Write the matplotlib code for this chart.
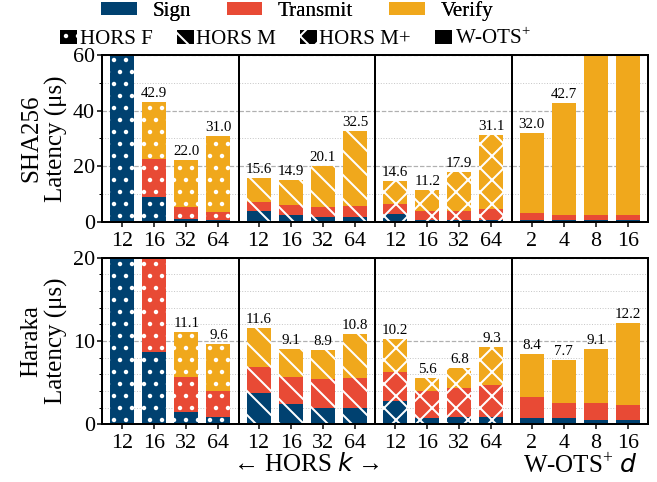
import numpy as np
import matplotlib
matplotlib.use('Agg')
import matplotlib.pyplot as plt
from matplotlib.patches import Patch
from matplotlib.ticker import MultipleLocator

plt.rcParams['font.family'] = ['Liberation Serif', 'DejaVu Serif']
plt.rcParams['mathtext.fontset'] = 'custom'
plt.rcParams['mathtext.rm'] = 'Liberation Serif'
plt.rcParams['mathtext.it'] = 'DejaVu Sans:italic'
plt.rcParams['hatch.linewidth'] = 2.0

# ========== DONNÉES ==========
hors_k = ['12', '16', '32', '64']
wots_d = ['2', '4', '8', '16']
groups = ['HORS F', 'HORS M', 'HORS M+', 'W-OTS$^{+}$']

# SHA256 (µs) : [HORS F, HORS M, HORS M+, W-OTS+]
sha_sign = [[75.0, 8.7, 1.0, 0.6],
            [3.7, 2.5, 1.8, 1.8],
            [2.8, 0.6, 0.5, 0.5],
            [0.5, 0.4, 0.4, 0.4]]
sha_transmit = [[10.0, 13.8, 4.4, 2.9],
                [3.3, 3.3, 3.6, 3.9],
                [3.4, 3.3, 3.4, 4.2],
                [2.6, 2.0, 2.0, 2.0]]
sha_total = [[95.0, 42.9, 22.0, 31.0],
             [15.6, 14.9, 20.1, 32.5],
             [14.6, 11.2, 17.9, 31.1],
             [32.0, 42.7, 80.0, 150.0]]

# Haraka (µs)
har_sign = [[30.0, 8.7, 1.5, 0.9],
            [3.7, 2.4, 2.0, 2.0],
            [2.8, 0.8, 0.9, 0.9],
            [0.75, 0.7, 0.55, 0.55]]
har_transmit = [[5.0, 18.0, 4.2, 3.1],
                [3.2, 3.3, 3.4, 3.5],
                [3.5, 3.2, 3.4, 3.85],
                [2.55, 1.9, 1.95, 1.8]]
har_total = [[40.0, 30.0, 11.1, 9.6],
             [11.6, 9.1, 8.9, 10.8],
             [10.2, 5.6, 6.8, 9.3],
             [8.4, 7.7, 9.1, 12.2]]

c_sign = '#004170'
c_transmit = '#e84a35'
c_verify = '#f0a81c'
hatches = ['.', '\\', 'x', '']

# ========== FIGURE ==========
fig, axes = plt.subplots(2, 4, figsize=(657 / 72, 482 / 72), dpi=72)
fig.subplots_adjust(left=0.1553, right=0.9863, top=0.8859, bottom=0.1197,
                    wspace=0, hspace=0.217)

rows = [(sha_sign, sha_transmit, sha_total, 60, 20, 10, 'SHA256\nLatency (μs)'),
        (har_sign, har_transmit, har_total, 20, 10, 2, 'Haraka\nLatency (μs)')]

for r, (sign, trans, total, ymax, maj, mino, ylab) in enumerate(rows):
    for g in range(4):
        ax = axes[r, g]
        x = np.arange(4)
        s = np.array(sign[g])
        t = np.array(trans[g])
        v = np.array(total[g]) - s - t
        for vals, bot, col in [(s, 0, c_sign), (t, s, c_transmit), (v, s + t, c_verify)]:
            ax.bar(x, vals, 0.75, bottom=bot, color=col, edgecolor='white',
                   linewidth=0, hatch=hatches[g], zorder=2)
        for xi, tot in zip(x, total[g]):
            if tot <= ymax:
                ax.text(xi, tot + ymax * 0.012, f'{tot:.1f}', ha='center',
                        va='bottom', fontsize=15, zorder=3)
        ax.set_xlim(-0.625, 3.625)
        ax.set_ylim(0, ymax)
        ax.yaxis.set_major_locator(MultipleLocator(maj))
        ax.yaxis.set_minor_locator(MultipleLocator(mino))
        ax.grid(True, which='major', axis='y', linestyle='--', color='#b0b0b0',
                linewidth=1.2, zorder=0)
        ax.grid(True, which='minor', axis='y', linestyle=':', color='#c8c8c8',
                linewidth=1.0, zorder=0)
        ax.set_axisbelow(True)
        ax.set_xticks(x)
        ax.set_xticklabels(wots_d if g == 3 else hors_k)
        ax.tick_params(axis='x', labelsize=22, length=5, width=1.5, pad=5)
        for sp in ax.spines.values():
            sp.set_linewidth(2)
        if g == 0:
            ax.tick_params(axis='y', which='major', labelsize=22, length=5, width=1.5, pad=2)
            ax.tick_params(axis='y', which='minor', length=3, width=1)
            ax.set_ylabel(ylab, fontsize=25, linespacing=1.15, labelpad=5)
        else:
            ax.tick_params(axis='y', which='both', left=False, labelleft=False)

# ========== LÉGENDES ==========
h1 = [Patch(facecolor=c_sign, label='Sign'),
      Patch(facecolor=c_transmit, label='Transmit'),
      Patch(facecolor=c_verify, label='Verify')]
leg1 = fig.legend(handles=h1, loc='center', bbox_to_anchor=(0.452, 0.977), ncol=3,
                  frameon=False, fontsize=21, handlelength=1.7, handleheight=0.62,
                  handletextpad=0.75, columnspacing=1.7, borderpad=0, borderaxespad=0)
h2 = [Patch(facecolor='black', edgecolor='white', linewidth=0, hatch=h, label=lab)
      for h, lab in zip(hatches, groups)]
fig.legend(handles=h2, loc='center', bbox_to_anchor=(0.45, 0.92), ncol=4,
           frameon=False, fontsize=21, handlelength=0.8, handleheight=0.62,
           handletextpad=0.12, columnspacing=1.15, borderpad=0, borderaxespad=0)
fig.add_artist(leg1)

fig.text(0.4665, 0.036, '← HORS $k$ →', ha='center', va='center', fontsize=25)
fig.text(0.8828, 0.034, 'W-OTS$^{+}$ $d$', ha='center', va='center', fontsize=25)

fig.savefig('out.png', dpi=72)
